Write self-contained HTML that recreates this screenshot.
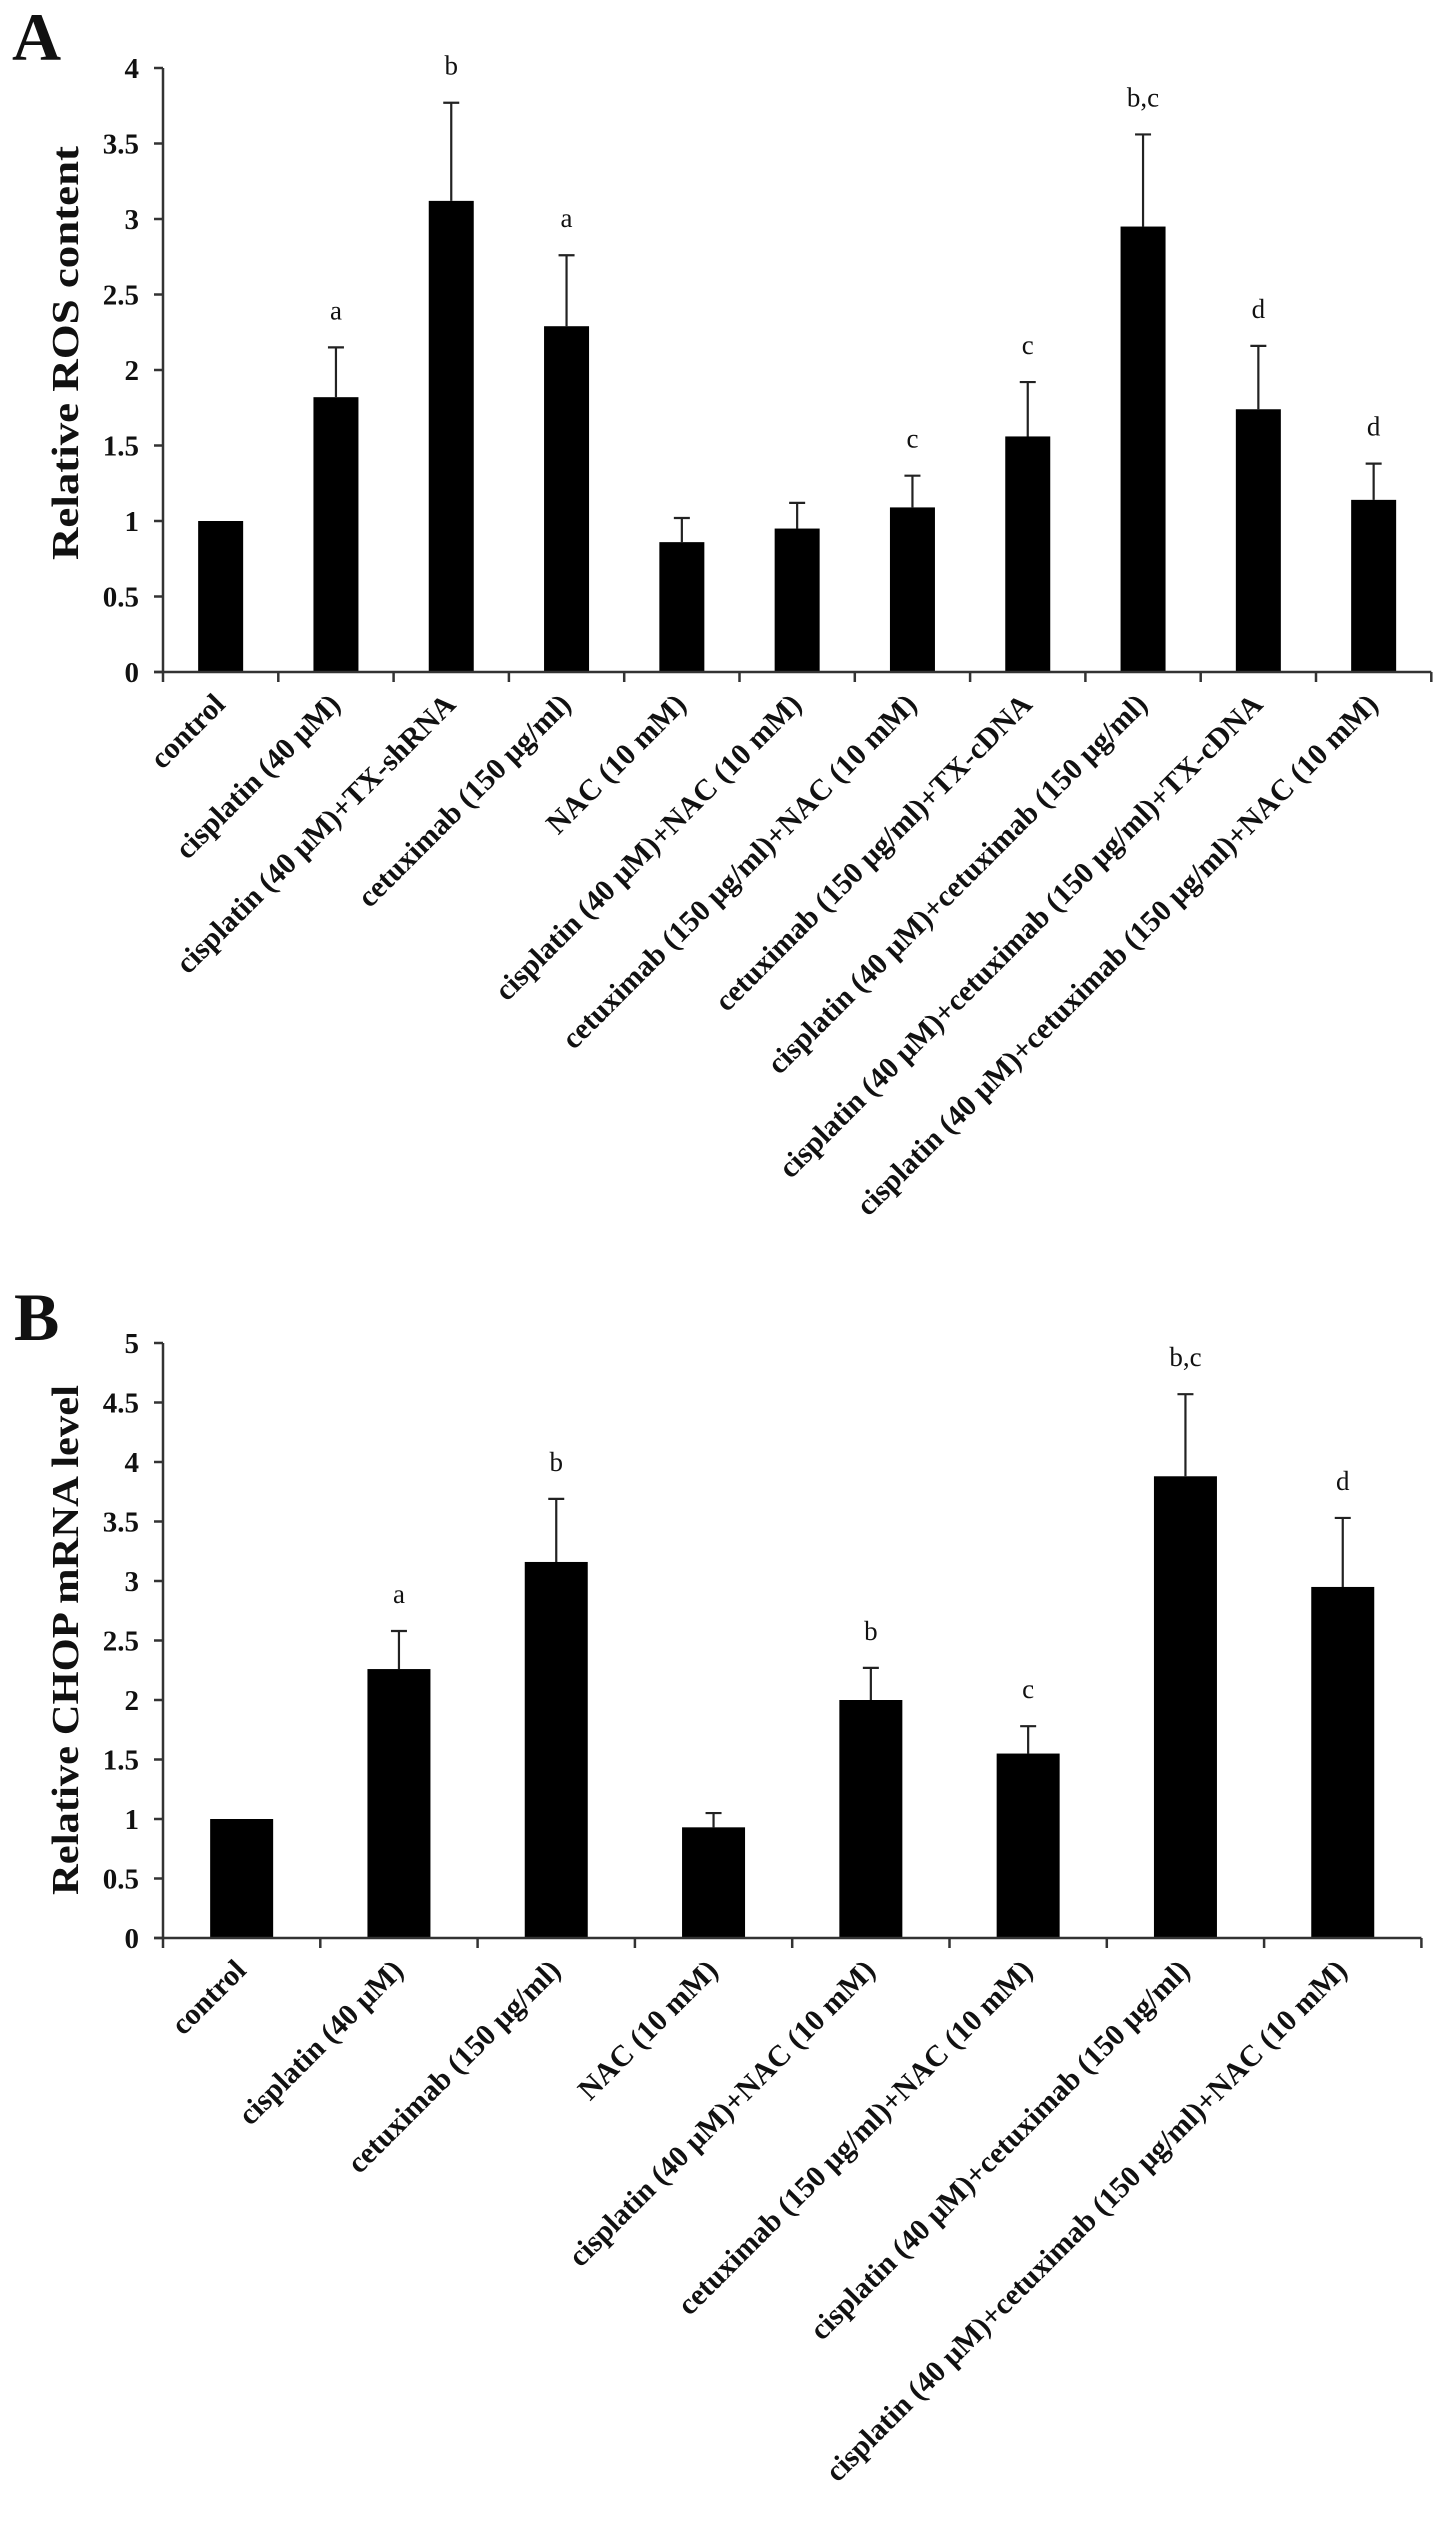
<!DOCTYPE html>
<html><head><meta charset="utf-8"><style>
html,body{margin:0;padding:0;background:#fff;}
svg{display:block;}
text{font-family:"Liberation Serif",serif;fill:#111;}
.tick{font-weight:bold;font-size:29px;}
.xl{font-weight:bold;font-size:30px;}
.sig{font-size:27px;}
.yt{font-weight:bold;font-size:38px;}
.pl{font-weight:bold;font-size:68px;}
</style></head>
<body>
<svg id="fig" width="1441" height="2526" viewBox="0 0 1441 2526" xmlns="http://www.w3.org/2000/svg">
<text class="pl" x="12" y="60">A</text>
<text class="pl" x="14" y="1340">B</text>
<text class="yt" transform="translate(78,353) rotate(-90)" text-anchor="middle" textLength="414" lengthAdjust="spacingAndGlyphs">Relative ROS content</text>
<text class="yt" transform="translate(78,1640) rotate(-90)" text-anchor="middle" textLength="510" lengthAdjust="spacingAndGlyphs">Relative CHOP mRNA level</text>
<g id="chartA"></g>
<g id="chartB"></g>
</svg>
<script>
const catsA = ["control","cisplatin (40 μM)","cisplatin (40 μM)+TX-shRNA","cetuximab (150 μg/ml)","NAC (10 mM)","cisplatin (40 μM)+NAC (10 mM)","cetuximab (150 μg/ml)+NAC (10 mM)","cetuximab (150 μg/ml)+TX-cDNA","cisplatin (40  μM)+cetuximab (150  μg/ml)","cisplatin (40  μM)+cetuximab (150  μg/ml)+TX-cDNA","cisplatin (40  μM)+cetuximab (150  μg/ml)+NAC (10 mM)"];
const valsA = [1, 1.82, 3.12, 2.29, 0.86, 0.95, 1.09, 1.56, 2.95, 1.74, 1.14];
const errA = [0, 0.33, 0.65, 0.47, 0.16, 0.17, 0.21, 0.36, 0.61, 0.42, 0.24];
const sigA = ["", "a", "b", "a", "", "", "c", "c", "b,c", "d", "d"];
const ticksA = [0,0.5,1,1.5,2,2.5,3,3.5,4];

const catsB = ["control","cisplatin (40 μM)","cetuximab (150 μg/ml)","NAC (10 mM)","cisplatin (40 μM)+NAC (10 mM)","cetuximab (150 μg/ml)+NAC (10 mM)","cisplatin (40  μM)+cetuximab (150  μg/ml)","cisplatin (40  μM)+cetuximab (150  μg/ml)+NAC (10 mM)"];
const valsB = [1, 2.26, 3.16, 0.93, 2.0, 1.55, 3.88, 2.95];
const errB = [0, 0.32, 0.53, 0.12, 0.27, 0.23, 0.69, 0.58];
const sigB = ["", "a", "b", "", "b", "c", "b,c", "d"];
const ticksB = [0,0.5,1,1.5,2,2.5,3,3.5,4,4.5,5];

const NS = "http://www.w3.org/2000/svg";
function mk(tag, attrs, parent){const e=document.createElementNS(NS,tag);for(const k in attrs)e.setAttribute(k,attrs[k]);parent.appendChild(e);return e;}

function draw(gid, cats, vals, errs, sigs, ticks, cfg){
  const g=document.getElementById(gid);
  const y=v=>cfg.y0 - v*cfg.unit;
  const xc=i=>cfg.x0 + (i+0.5)*cfg.step;
  const xEnd=cfg.x0+cats.length*cfg.step;
  let l=mk("line",{x1:cfg.x0,y1:y(ticks[ticks.length-1]),x2:cfg.x0,y2:cfg.y0,stroke:"#333","stroke-width":2.5},g);
  
  
  ticks.forEach(t=>{
    const tl=mk("line",{x1:cfg.x0-9,y1:y(t),x2:cfg.x0,y2:y(t),stroke:"#333","stroke-width":2.5},g);
    
    
    const tx=mk("text",{x:cfg.x0-24,y:y(t)+10,"text-anchor":"end",class:"tick"},g);
    tx.textContent=String(t);
    
    
  });
  cats.forEach((c,i)=>{
    const cx=xc(i);
    const bar=mk("rect",{x:cx-cfg.bw/2,y:y(vals[i]),width:cfg.bw,height:cfg.y0-y(vals[i]),fill:"#000"},g);
    
    
    if(errs[i]>0){
      const top=y(vals[i]+errs[i]);
      const el=mk("path",{d:`M${cx},${y(vals[i])}V${top}M${cx-8},${top}H${cx+8}`,stroke:"#222","stroke-width":2.2,fill:"none"},g);
      
      
    }
    if(sigs[i]){
      const st=mk("text",{x:cx,y:y(vals[i]+errs[i])-28,"text-anchor":"middle",class:"sig"},g);
      st.textContent=sigs[i];
      
      
    }
    const lab=mk("text",{transform:`translate(${cx+6},${cfg.y0+34}) rotate(-45)`,"text-anchor":"end",class:"xl"},g);
    lab.textContent=c;
    
    
  });
  for(let i=0;i<=cats.length;i++){
    const xt=cfg.x0+i*cfg.step;
    const t=mk("line",{x1:xt,y1:cfg.y0,x2:xt,y2:cfg.y0+10,stroke:"#333","stroke-width":2.5},g);
    
    
  }
  const xa=mk("line",{x1:cfg.x0-9,y1:cfg.y0,x2:xEnd,y2:cfg.y0,stroke:"#333","stroke-width":2.5},g);
  
  
}
draw("chartA",catsA,valsA,errA,sigA,ticksA,{x0:163,y0:672,unit:151,step:115.3,bw:45});
draw("chartB",catsB,valsB,errB,sigB,ticksB,{x0:163,y0:1938,unit:119,step:157.3,bw:63});
</script>
</body></html>
